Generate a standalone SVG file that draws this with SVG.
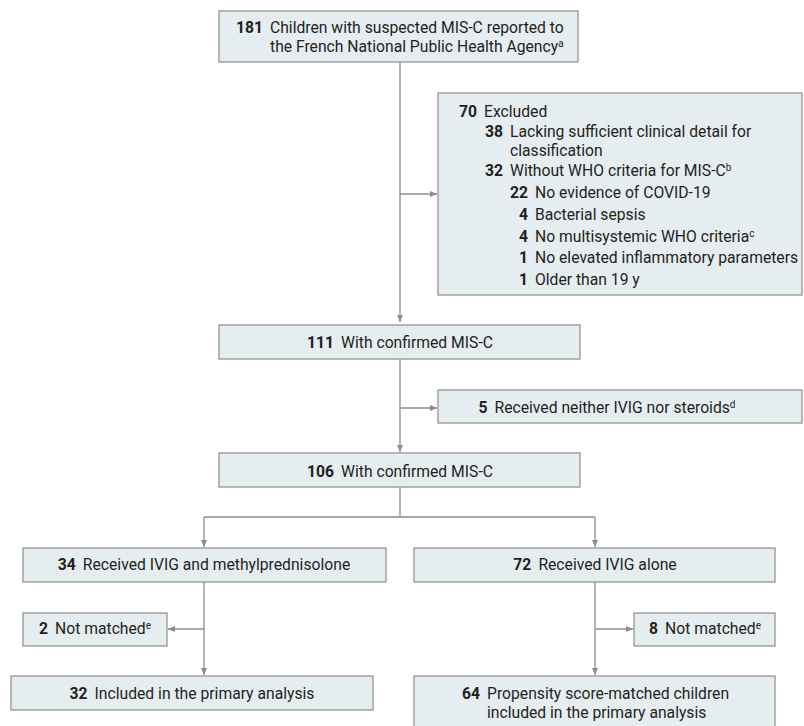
<svg xmlns="http://www.w3.org/2000/svg" width="804" height="726" viewBox="0 0 804 726">
<defs>
<style>
.box{fill:#e6edf1;stroke:#8c8c8c;stroke-width:1.2}
.ln{fill:none;stroke:#8c8c8c;stroke-width:1.3}
text{font-family:Roboto,"Liberation Sans",sans-serif;font-size:15.7px;fill:#231f20}
.b{font-weight:bold}
.sup{font-size:10px}
</style>
<marker id="ah" markerWidth="8" markerHeight="8" refX="7" refY="4" orient="auto" markerUnits="userSpaceOnUse">
<path d="M0,1 L7,4 L0,7 Z" fill="#8c8c8c"/>
</marker>
</defs>
<rect width="804" height="726" fill="#fff"/>
<g id="connectors">
<path class="ln" d="M400,62 V322" marker-end="url(#ah)"/>
<path class="ln" d="M400,194 H437" marker-end="url(#ah)"/>
<path class="ln" d="M400,359 V452" marker-end="url(#ah)"/>
<path class="ln" d="M400,408 H437" marker-end="url(#ah)"/>
<path class="ln" d="M400,487 V517 M204,517 H595"/>
<path class="ln" d="M204,517 V547" marker-end="url(#ah)"/>
<path class="ln" d="M595,517 V547" marker-end="url(#ah)"/>
<path class="ln" d="M204,582 V675" marker-end="url(#ah)"/>
<path class="ln" d="M204,629 H168" marker-end="url(#ah)"/>
<path class="ln" d="M595,582 V675" marker-end="url(#ah)"/>
<path class="ln" d="M595,629 H633" marker-end="url(#ah)"/>
</g>
<g id="n181">
<rect class="box" x="219" y="11" width="359" height="51"/>
<text x="263" y="33" text-anchor="end" class="b">181</text>
<text x="270" y="33">Children with suspected MIS-C reported to</text>
<text x="270" y="52">the French National Public Health Agency<tspan class="sup" dy="-5">a</tspan></text>
</g>
<g id="n70">
<rect class="box" x="438" y="93" width="364" height="202"/>
<text x="477" y="117" text-anchor="end" class="b">70</text>
<text x="484" y="117">Excluded</text>
<text x="503" y="137" text-anchor="end" class="b">38</text>
<text x="510" y="137">Lacking sufficient clinical detail for</text>
<text x="510" y="156">classification</text>
<text x="503" y="176" text-anchor="end" class="b">32</text>
<text x="510" y="176">Without WHO criteria for MIS-C<tspan class="sup" dy="-5">b</tspan></text>
<text x="528" y="198" text-anchor="end" class="b">22</text>
<text x="535" y="198">No evidence of COVID-19</text>
<text x="528" y="220" text-anchor="end" class="b">4</text>
<text x="535" y="220">Bacterial sepsis</text>
<text x="528" y="242" text-anchor="end" class="b">4</text>
<text x="535" y="242">No multisystemic WHO criteria<tspan class="sup" dy="-5">c</tspan></text>
<text x="528" y="263" text-anchor="end" class="b">1</text>
<text x="535" y="263">No elevated inflammatory parameters</text>
<text x="528" y="285" text-anchor="end" class="b">1</text>
<text x="535" y="285">Older than 19 y</text>
</g>
<g id="n111">
<rect class="box" x="219" y="325" width="361" height="34"/>
<text x="400" y="348" text-anchor="middle"><tspan class="b">111</tspan><tspan dx="7">With confirmed MIS-C</tspan></text>
</g>
<g id="n5">
<rect class="box" x="438" y="390" width="364" height="33"/>
<text x="607" y="413" text-anchor="middle"><tspan class="b">5</tspan><tspan dx="7">Received neither IVIG nor steroids</tspan><tspan class="sup" dy="-5">d</tspan></text>
</g>
<g id="n106">
<rect class="box" x="219" y="453" width="361" height="34"/>
<text x="400" y="477" text-anchor="middle"><tspan class="b">106</tspan><tspan dx="7">With confirmed MIS-C</tspan></text>
</g>
<g id="n34">
<rect class="box" x="23" y="548" width="363" height="34"/>
<text x="204" y="570" text-anchor="middle"><tspan class="b">34</tspan><tspan dx="7">Received IVIG and methylprednisolone</tspan></text>
</g>
<g id="n72">
<rect class="box" x="414" y="548" width="361" height="34"/>
<text x="595" y="570" text-anchor="middle"><tspan class="b">72</tspan><tspan dx="7">Received IVIG alone</tspan></text>
</g>
<g id="n2">
<rect class="box" x="23" y="613" width="144" height="33"/>
<text x="95" y="634" text-anchor="middle"><tspan class="b">2</tspan><tspan dx="7">Not matched</tspan><tspan class="sup" dy="-5">e</tspan></text>
</g>
<g id="n8">
<rect class="box" x="634" y="613" width="141" height="33"/>
<text x="705" y="634" text-anchor="middle"><tspan class="b">8</tspan><tspan dx="7">Not matched</tspan><tspan class="sup" dy="-5">e</tspan></text>
</g>
<g id="n32">
<rect class="box" x="11" y="676" width="362" height="34"/>
<text x="192" y="699" text-anchor="middle"><tspan class="b">32</tspan><tspan dx="7">Included in the primary analysis</tspan></text>
</g>
<g id="n64">
<rect class="box" x="414" y="676" width="361" height="60"/>
<text x="480" y="699" text-anchor="end" class="b">64</text>
<text x="487" y="699">Propensity score-matched children</text>
<text x="487" y="718">included in the primary analysis</text>
</g>
</svg>
